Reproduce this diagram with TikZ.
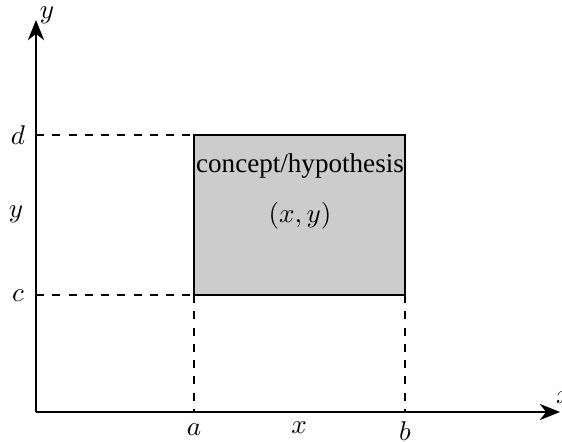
\documentclass[tikz,border=0pt]{standalone}
\usepackage{fontspec}
\setmainfont{Liberation Serif}
\usetikzlibrary{arrows.meta}
\begin{document}
\begin{tikzpicture}[x=0.369pt,y=-0.369pt,
  axis/.style={line width=0.45pt,-{Stealth[length=7.5pt,width=6pt]}},
  guide/.style={dashed,line width=0.4pt},
  lbl/.style={inner sep=0pt,font=\normalsize}]
\useasboundingbox (0,0) rectangle (562,442);
\coordinate (O) at (36,412);
\coordinate (ytop) at (36,20);
\coordinate (xend) at (560,412);
\coordinate (boxTL) at (194,135);
\coordinate (boxBR) at (405,295);
\coordinate (boxBL) at (194,295);
\coordinate (boxTR) at (405,135);
\coordinate (yd) at (36,135);
\coordinate (yc) at (36,295);
\coordinate (xa) at (194,412);
\coordinate (xb) at (405,412);
\draw[fill=gray!40,line width=0.4pt] (boxTL) rectangle (boxBR);
\draw[guide] (yd) -- (boxTL);
\draw[guide] (yc) -- (boxBL);
\draw[guide] (boxBL) -- (boxBR);
\draw[guide] (boxBL) -- (xa);
\draw[guide] (boxBR) -- (xb);
\draw[axis] (O) -- (ytop);
\draw[axis] (O) -- (xend);
\node[lbl] (concept) at (300,166) {concept/hypothesis};
\node[lbl] (xy) at (300,216) {$(x,y)$};
\node[lbl] (ylab) at (47,15) {$y$};
\node[lbl] (xlab) at (564,398) {$x$};
\node[lbl] (dlab) at (18,135) {$d$};
\node[lbl] (ymid) at (16,214) {$y$};
\node[lbl] (clab) at (18,296) {$c$};
\node[lbl] (alab) at (194,430) {$a$};
\node[lbl] (xmid) at (299,428) {$x$};
\node[lbl] (blab) at (405,431) {$b$};
\end{tikzpicture}
\end{document}
